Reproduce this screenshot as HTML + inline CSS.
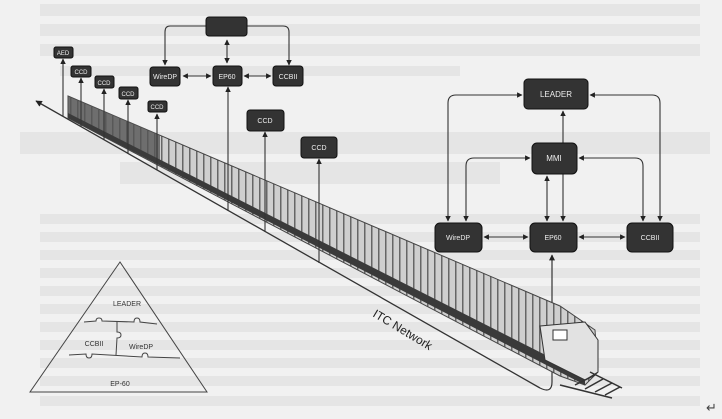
<!DOCTYPE html>
<html><head><meta charset="utf-8"><style>
html,body{margin:0;padding:0;background:#f1f1f1;}
svg{display:block;}
text{font-family:"Liberation Sans",sans-serif;}
</style></head><body>
<svg width="722" height="419" viewBox="0 0 722 419" xmlns="http://www.w3.org/2000/svg">
<defs>
<marker id="a" viewBox="0 0 10 10" refX="9" refY="5" markerWidth="5" markerHeight="5" orient="auto-start-reverse"><path d="M0,0L10,5L0,10z" fill="#222"/></marker>
<pattern id="st" width="7" height="7" patternUnits="userSpaceOnUse"><rect width="7" height="7" fill="#cfcfcf"/><rect width="1.5" height="7" fill="#666"/></pattern>
</defs>
<rect width="722" height="419" fill="#f1f1f1"/>
<g fill="#e5e5e5">
<rect x="40" y="4" width="660" height="12"/><rect x="40" y="24" width="660" height="12"/><rect x="40" y="44" width="660" height="12"/><rect x="60" y="66" width="400" height="10"/>
<rect x="20" y="132" width="690" height="22"/><rect x="120" y="162" width="380" height="22"/>
<rect x="40" y="214" width="660" height="10"/><rect x="40" y="232" width="660" height="10"/><rect x="40" y="250" width="660" height="10"/><rect x="40" y="268" width="660" height="10"/><rect x="40" y="286" width="660" height="10"/><rect x="40" y="304" width="660" height="10"/><rect x="40" y="322" width="660" height="10"/><rect x="40" y="340" width="660" height="10"/><rect x="40" y="358" width="660" height="10"/><rect x="40" y="376" width="660" height="10"/><rect x="40" y="396" width="660" height="10"/>
</g>
<line x1="540" y1="388" x2="36" y2="101" stroke="#333" stroke-width="1.3" marker-end="url(#a)"/>
<path d="M540,388 Q552,394 552,382 L552,255" fill="none" stroke="#333" stroke-width="1.2" marker-end="url(#a)"/>
<polygon points="68,96 560,306 595,330 598,372 585,385 560,376 68,118" fill="url(#st)" stroke="#444" stroke-width="1"/>
<polygon points="68,96 160,135 160,165 68,118" fill="#555" opacity="0.8"/>
<polygon points="68,113 585,375 585,385 68,118" fill="#3a3a3a"/>
<polygon points="540,326 585,322 598,340 598,372 585,380 545,360" fill="#e2e2e2" stroke="#333"/>
<rect x="553" y="330" width="14" height="10" fill="#fff" stroke="#333"/>
<g stroke="#333" stroke-width="1.5"><line x1="560" y1="385" x2="612" y2="398"/><line x1="590" y1="372" x2="622" y2="388"/>
<line x1="575" y1="385" x2="595" y2="375"/><line x1="585" y1="389" x2="603" y2="379"/><line x1="595" y1="392" x2="612" y2="383"/><line x1="605" y1="395" x2="620" y2="387"/></g>
<text x="372" y="316" font-size="12" fill="#222" transform="rotate(31 372 316)">ITC Network</text>
<g stroke="#333" stroke-width="1.1" marker-end="url(#a)" fill="none">
<line x1="63" y1="116" x2="63" y2="59"/>
<line x1="81" y1="127" x2="81" y2="78"/>
<line x1="104" y1="140" x2="104" y2="89"/>
<line x1="128" y1="154" x2="128" y2="100"/>
<line x1="157" y1="170" x2="157" y2="114"/>
<line x1="228" y1="211" x2="228" y2="87"/>
<line x1="265" y1="232" x2="265" y2="132"/>
<line x1="319" y1="263" x2="319" y2="159"/>
</g>
<g stroke="#333" stroke-width="1.1" fill="none">
<path d="M206,26 L170,26 Q165,26 165,32 L165,65" marker-end="url(#a)"/>
<path d="M247,26 L283,26 Q289,26 289,32 L289,65" marker-end="url(#a)"/>
<line x1="227" y1="40" x2="227" y2="63" marker-end="url(#a)" marker-start="url(#a)"/>
<line x1="183" y1="76" x2="211" y2="76" marker-end="url(#a)" marker-start="url(#a)"/>
<line x1="244" y1="76" x2="271" y2="76" marker-end="url(#a)" marker-start="url(#a)"/>
</g>
<g stroke="#333" stroke-width="1.1" fill="none">
<path d="M522,95 L456,95 Q448,95 448,103 L448,221" marker-end="url(#a)" marker-start="url(#a)"/>
<path d="M590,95 L652,95 Q660,95 660,103 L660,221" marker-end="url(#a)" marker-start="url(#a)"/>
<path d="M530,158 L474,158 Q466,158 466,166 L466,221" marker-end="url(#a)" marker-start="url(#a)"/>
<path d="M579,158 L635,158 Q643,158 643,166 L643,221" marker-end="url(#a)" marker-start="url(#a)"/>
<line x1="563" y1="221" x2="563" y2="111" marker-end="url(#a)" marker-start="url(#a)"/>
<line x1="547" y1="221" x2="547" y2="176" marker-end="url(#a)" marker-start="url(#a)"/>
<line x1="484" y1="237" x2="528" y2="237" marker-end="url(#a)" marker-start="url(#a)"/>
<line x1="579" y1="237" x2="625" y2="237" marker-end="url(#a)" marker-start="url(#a)"/>
</g>
<g fill="#333" stroke="#111">
<rect x="206" y="17" width="41" height="19" rx="3"/>
<rect x="150" y="67" width="30" height="19" rx="3"/>
<rect x="213" y="66" width="29" height="20" rx="3"/>
<rect x="273" y="66" width="30" height="20" rx="3"/>
<rect x="54" y="47" width="19" height="11" rx="2"/>
<rect x="71" y="66" width="20" height="11" rx="2"/>
<rect x="95" y="76" width="19" height="12" rx="2"/>
<rect x="119" y="87" width="19" height="12" rx="2"/>
<rect x="148" y="101" width="19" height="11" rx="2"/>
<rect x="247" y="110" width="37" height="21" rx="3"/>
<rect x="301" y="137" width="36" height="21" rx="3"/>
<rect x="524" y="79" width="64" height="30" rx="4"/>
<rect x="532" y="143" width="45" height="31" rx="5"/>
<rect x="435" y="223" width="47" height="29" rx="5"/>
<rect x="530" y="223" width="47" height="29" rx="5"/>
<rect x="627" y="223" width="46" height="29" rx="5"/>
</g>
<g fill="#eee" font-size="7" text-anchor="middle">
<text x="165" y="79">WireDP</text><text x="227" y="79">EP60</text><text x="288" y="79">CCBII</text>
<text x="63" y="55" font-size="6">AED</text><text x="81" y="74" font-size="6">CCD</text><text x="104" y="85" font-size="6">CCD</text><text x="128" y="96" font-size="6">CCD</text><text x="157" y="109" font-size="6">CCD</text>
<text x="265" y="123">CCD</text><text x="319" y="150">CCD</text>
<text x="556" y="97" font-size="8">LEADER</text><text x="554" y="161" font-size="8">MMI</text>
<text x="458" y="240">WireDP</text><text x="553" y="240">EP60</text><text x="650" y="240">CCBII</text>
</g>
<g stroke="#444" stroke-width="1" fill="none">
<path d="M120,262 L30,392 L207,392 Z"/>
<path d="M84,322 L96,321 q0,-3 3,-3 q3,0 3,3 L134,322 q0,-4 3,-4 q3,0 3,4 L157,324"/>
<path d="M69,355 L86,354 q0,4 3,4 q3,0 3,-4 L142,357 q0,-4 3,-4 q3,0 3,4 L180,358"/>
<path d="M117,322 L117,332 q4,0 4,3 q0,3 -4,3 L116,355"/>
</g>
<g fill="#333" font-size="7" text-anchor="middle">
<text x="127" y="306">LEADER</text><text x="94" y="346">CCBII</text><text x="141" y="349">WireDP</text><text x="120" y="386">EP-60</text>
</g>
<text x="706" y="412" font-size="13" fill="#444">↵</text>
</svg>
</body></html>
